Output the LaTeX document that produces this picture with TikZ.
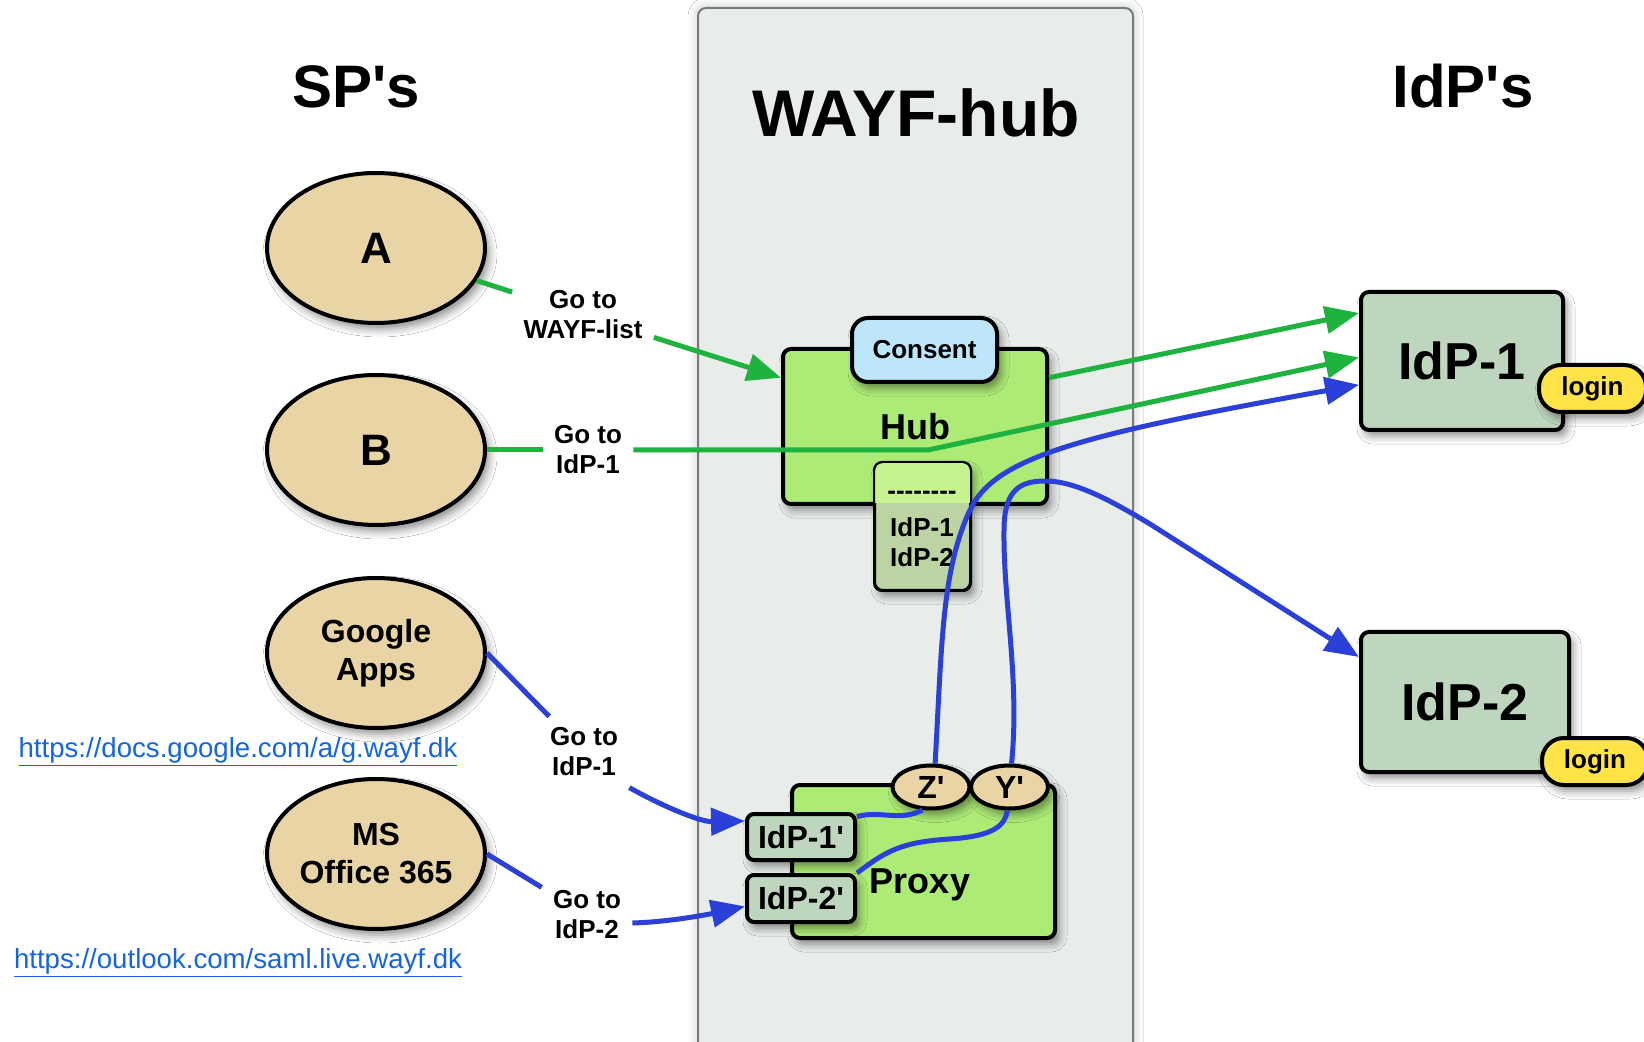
\documentclass[tikz,border=0pt]{standalone}
\usepackage{fontspec}
\setmainfont{Liberation Sans}
\usetikzlibrary{arrows.meta,shapes.geometric,shadows.blur}
\definecolor{panelfill}{HTML}{E8EDE9}
\definecolor{panelline}{HTML}{7A7A7A}
\definecolor{spfill}{HTML}{E8D4A5}
\definecolor{hubgreen}{HTML}{ADEB77}
\definecolor{consentblue}{HTML}{BDE6FB}
\definecolor{idpfill}{HTML}{BFD6BE}
\definecolor{loginyellow}{HTML}{FFE347}
\definecolor{listhigh}{HTML}{C6F38F}
\definecolor{listlow}{HTML}{BCD3A3}
\definecolor{lgreen}{HTML}{1DB33E}
\definecolor{lblue}{HTML}{2A40D8}
\definecolor{urlblue}{HTML}{1565E0}
\newcommand\myfs[2]{\fontsize{#1}{#2}\selectfont}
\newcommand\mydashes{\mbox{-}\mbox{-}\mbox{-}\mbox{-}\mbox{-}\mbox{-}\mbox{-}\mbox{-}}
\begin{document}
\begin{tikzpicture}[x=0.5pt,y=-0.5pt,
 shad/.style={blur shadow={shadow xshift=2pt,shadow yshift=-3pt,shadow blur radius=4pt,shadow opacity=45}},
 spnode/.style={ellipse,draw,line width=2pt,fill=spfill,minimum width=109pt,minimum height=75pt,inner sep=0pt,align=center,font=\bfseries\myfs{16}{19},shad},
 bx/.style={draw,line width=2pt,inner sep=0pt,shad},
 lab/.style={align=center,font=\bfseries\myfs{13}{15},inner xsep=5.5pt,inner ysep=5.5pt},
 gline/.style={draw=lgreen,line width=2.5pt},
 bline/.style={draw=lblue,line width=2.5pt},
 arr/.style={-{Triangle[length=17pt,width=13.5pt]}},
 ttl/.style={font=\bfseries\myfs{30}{36},anchor=base},
 urltext/.style={text=urlblue,font=\myfs{13.8}{16}},
 smallell/.style={ellipse,draw,line width=2pt,fill=spfill,minimum width=38.5pt,minimum height=21.5pt,inner sep=0pt,font=\bfseries\myfs{16}{18},shad}
]
\useasboundingbox (0,0) rectangle (1644,1042);
\fill[white] (0,0) rectangle (1644,1042);

% WAYF-hub panel
\path[draw=panelline,fill=panelfill,line width=1pt,rounded corners=4pt,
  blur shadow={shadow xshift=0pt,shadow yshift=0pt,shadow blur radius=5pt,shadow opacity=25}]
  (698,8) rectangle (1133,1080);

% titles
\node[ttl] (tsp) at (356,108) {SP\textquotesingle s};
\node[ttl,font=\bfseries\myfs{33}{40}] (twayf) at (916,137) {WAYF-hub};
\node[ttl] (tidp) at (1463,108) {IdP\textquotesingle s};

% hub
\node[bx,fill=hubgreen,rounded corners=4pt,minimum width=132pt,minimum height=77.5pt,font=\bfseries\myfs{18}{20}] (hub) at (915,426.5) {Hub};
\node[bx,fill=consentblue,rounded corners=8pt,minimum width=72.5pt,minimum height=32pt,font=\bfseries\myfs{13}{15}] (consent) at (924.5,350) {Consent};

% list box
\node[draw,line width=1pt,fill=listlow,rounded corners=4pt,minimum width=47.5pt,minimum height=63.5pt,inner sep=0pt,shad] (lst) at (922.5,526.5) {};
\begin{scope}
\clip (783,349) rectangle (1046,503);
\fill[listhigh,rounded corners=4pt] (875,463) rectangle (970,590);
\end{scope}
\draw[line width=1pt,rounded corners=4pt] (lst.north west) rectangle (lst.south east);
\node[font=\bfseries\myfs{13}{15}] (lstd) at (922,495) {\mydashes};
\node[font=\bfseries\myfs{13}{15}] (lst1) at (922,527) {IdP-1};
\node[font=\bfseries\myfs{13}{15}] (lst2) at (922,557) {IdP-2};

% proxy
\node[bx,fill=hubgreen,rounded corners=4pt,minimum width=131.5pt,minimum height=76.5pt] (proxy) at (923.5,861.5) {};
\node[font=\bfseries\myfs{18}{20}] (proxytxt) at (920,885) {Proxy};
\node[smallell] (zp) at (931,787) {Z\textquotesingle};
\node[smallell] (yp) at (1009.5,787) {Y\textquotesingle};
\node[bx,fill=idpfill,rounded corners=3.5pt,minimum width=54pt,minimum height=23pt,font=\bfseries\myfs{16}{18}] (ip1) at (801,837) {IdP-1\textquotesingle};
\node[bx,fill=idpfill,rounded corners=3.5pt,minimum width=54pt,minimum height=23.5pt,font=\bfseries\myfs{16}{18}] (ip2) at (801,898.5) {IdP-2\textquotesingle};

% IdPs
\node[bx,fill=idpfill,rounded corners=4pt,minimum width=101pt,minimum height=69pt,font=\bfseries\myfs{26}{30}] (idp1) at (1462,361) {IdP-1};
\node[bx,fill=idpfill,rounded corners=4pt,minimum width=104pt,minimum height=70pt,font=\bfseries\myfs{26}{30}] (idp2) at (1465,702) {IdP-2};
\node[bx,fill=loginyellow,rounded corners=11pt,minimum width=53.5pt,minimum height=23.5pt,font=\bfseries\myfs{13}{15}] (login1) at (1592.5,388.5) {login};
\node[bx,fill=loginyellow,rounded corners=11pt,minimum width=53pt,minimum height=23.5pt,font=\bfseries\myfs{13}{15}] (login2) at (1595,761.5) {login};

% SPs
\node[spnode,font=\bfseries\myfs{22}{26}] (A) at (376,248) {A};
\node[spnode,font=\bfseries\myfs{22}{26}] (B) at (376,450) {B};
\node[spnode] (G) at (376,653) {Google\\Apps};
\node[spnode] (M) at (376,854) {MS\\Office 365};

\node[urltext] (u1) at (238,752) {\underline{https://docs.google.com/a/g.wayf.dk}};
\node[urltext] (u2) at (238,963) {\underline{https://outlook.com/saml.live.wayf.dk}};

% labels
\node[lab] (la) at (583,315) {Go to\\WAYF-list};
\node[lab] (lb) at (588,450) {Go to\\IdP-1};
\node[lab] (lg) at (584,752) {Go to\\IdP-1};
\node[lab] (lm) at (587,915) {Go to\\IdP-2};

% green connectors
\coordinate (bend) at (928,450);
\draw[gline] (A) -- (la);
\draw[gline,arr] (la) -- (hub.160);
\draw[gline] (B) -- (lb);
\draw[gline,arr] (lb) -- (bend) -- (idp1.178);
\draw[gline,arr] (hub.20) -- (idp1.155);

% blue connectors
\draw[bline] (G.east) -- (lg);
\draw[bline,arr] (lg.south east) .. controls (660,805) and (700,822) .. (ip1.164);
\draw[bline] (M.east) -- (lm);
\draw[bline,arr] (lm.-10) .. controls (670,922) and (710,914) .. (ip2.188);
\draw[bline] (ip1.20) .. controls (880,810) and (900,822) .. (zp.250);
\draw[bline] (ip2.north east) .. controls (885,852) and (900,842) .. (950,839) .. controls (995,836) and (1005,825) .. (yp.265);
\draw[bline,arr] (zp.80) .. controls (942,640) and (942,570) .. (970,510) .. controls (995,457) and (1080,435) .. (idp1.193);
\draw[bline,arr] (yp.85) .. controls (1020,680) and (1003,600) .. (1004,530) .. controls (1004,490) and (1020,481) .. (1045,481) .. controls (1075,481) and (1110,500) .. (1150,524) -- (idp2.157);
\end{tikzpicture}
\end{document}
